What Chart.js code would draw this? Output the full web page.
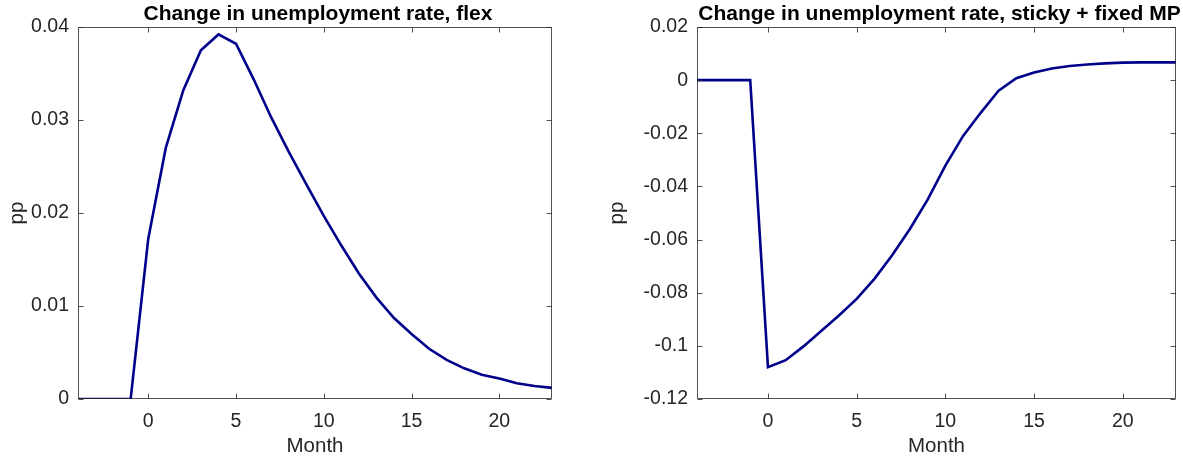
<!DOCTYPE html>
<html>
<head>
<meta charset="utf-8">
<script src="https://cdn.jsdelivr.net/npm/chart.js@4.4.1/dist/chart.umd.min.js"></script>
<style>
  html, body { margin: 0; padding: 0; background: #fff; }
  .panel { position: absolute; top: 0; height: 459px; }
  #leftPanel { left: 0; width: 600px; }
  #rightPanel { left: 600px; width: 583px; }
</style>
</head>
<body>
<div class="panel" id="leftPanel"><canvas id="flexChart"></canvas></div>
<div class="panel" id="rightPanel"><canvas id="stickyChart"></canvas></div>
<script>
// impulse responses, months -4 .. 23
const months = [-4, -3, -2, -1, 0, 1, 2, 3, 4, 5, 6, 7, 8, 9, 10, 11, 12, 13, 14, 15, 16, 17, 18, 19, 20, 21, 22, 23];

const flexRate = [0, 0, 0, 0,
    0.0172, 0.0270, 0.0332, 0.0375, 0.0392, 0.0382, 0.0344, 0.0303, 0.0266, 0.0231,
    0.0197, 0.0165, 0.0135, 0.0109, 0.0087, 0.0070, 0.0054, 0.0042, 0.0033, 0.0026,
    0.0022, 0.0017, 0.0014, 0.0012];

const stickyRate = [0, 0, 0, 0,
    -0.1080, -0.1054, -0.1002, -0.0944, -0.0886, -0.0823, -0.0748, -0.0659, -0.0560, -0.0450,
    -0.0322, -0.0210, -0.0122, -0.0040, 0.0007, 0.0029, 0.0044, 0.0053, 0.0059, 0.0063,
    0.0066, 0.0067, 0.0067, 0.0067];

const xTicks = [0, 5, 10, 15, 20];
const xTickLabels = ['0', '5', '10', '15', '20'];

const flexYTicks = [0, 0.01, 0.02, 0.03, 0.04];
const flexYTickLabels = ['0', '0.01', '0.02', '0.03', '0.04'];

const stickyYTicks = [-0.12, -0.1, -0.08, -0.06, -0.04, -0.02, 0, 0.02];
const stickyYTickLabels = ['-0.12', '-0.1', '-0.08', '-0.06', '-0.04', '-0.02', '0', '0.02'];

const fontFamily = "'Liberation Sans', Arial, sans-serif";
const axisColor = '#262626';
const lineColor = '#00008b';

// axes box with inward tick marks on all four sides, plus the bold title
const boxPlugin = {
    id: 'matlabBox',
    afterDraw(chart, args, opts) {
        const ctx = chart.ctx;
        const area = chart.chartArea;
        const xs = chart.scales.x;
        const ys = chart.scales.y;
        const tl = 5;
        ctx.save();
        ctx.strokeStyle = 'rgba(38,38,38,0.8)';
        ctx.lineWidth = 1;
        ctx.beginPath();
        const L = Math.round(area.left) + 0.5, R = Math.round(area.right) - 0.5;
        const T = Math.round(area.top) + 0.5, B = Math.round(area.bottom) - 0.5;
        ctx.rect(L, T, R - L, B - T);
        xs.ticks.forEach(t => {
            const px = Math.round(xs.getPixelForValue(t.value)) + 0.5;
            ctx.moveTo(px, B); ctx.lineTo(px, B - tl);
            ctx.moveTo(px, T); ctx.lineTo(px, T + tl);
        });
        ys.ticks.forEach(t => {
            const py = Math.round(ys.getPixelForValue(t.value)) + 0.5;
            ctx.moveTo(L, py); ctx.lineTo(L + tl, py);
            ctx.moveTo(R, py); ctx.lineTo(R - tl, py);
        });
        ctx.stroke();

        ctx.fillStyle = '#000';
        ctx.font = 'bold 21px ' + fontFamily;
        ctx.textAlign = 'center';
        ctx.textBaseline = 'alphabetic';
        ctx.fillText(opts.text, (area.left + area.right) / 2 + 3, 20);
        ctx.restore();
    }
};

function makeChart(canvasId, values, yTicks, yTickLabels, yMin, yMax, yWidth, padRight, title) {
    const ctx = document.getElementById(canvasId).getContext('2d');
    return new Chart(ctx, {
        type: 'line',
        data: {
            datasets: [{
                data: months.map((m, i) => ({ x: m, y: values[i] })),
                borderColor: lineColor,
                borderWidth: 2.6,
                pointRadius: 0,
                tension: 0,
                fill: false
            }]
        },
        options: {
            responsive: true,
            maintainAspectRatio: false,
            animation: false,
            layout: { padding: { left: 0, right: padRight, top: 27, bottom: 0 } },
            plugins: {
                legend: { display: false },
                tooltip: { enabled: false },
                matlabBox: { text: title }
            },
            scales: {
                x: {
                    type: 'linear',
                    min: -4,
                    max: 23,
                    grid: { display: false, drawTicks: false },
                    border: { display: false },
                    afterBuildTicks: scale => { scale.ticks = xTicks.map(v => ({ value: v })); },
                    afterFit: scale => { scale.height = 60; },
                    ticks: {
                        padding: 11,
                        maxRotation: 0,
                        color: axisColor,
                        font: { family: fontFamily, size: 19.5 },
                        callback: (v, i) => xTickLabels[i]
                    },
                    title: {
                        display: true,
                        text: 'Month',
                        color: axisColor,
                        padding: { top: 0, bottom: 0 },
                        font: { family: fontFamily, size: 20.5 }
                    }
                },
                y: {
                    type: 'linear',
                    min: yMin,
                    max: yMax,
                    grid: { display: false, drawTicks: false },
                    border: { display: false },
                    afterBuildTicks: scale => { scale.ticks = yTicks.map(v => ({ value: v })); },
                    afterFit: scale => { scale.width = yWidth; },
                    ticks: {
                        padding: 9,
                        color: axisColor,
                        font: { family: fontFamily, size: 19.5 },
                        callback: (v, i) => yTickLabels[i]
                    },
                    title: {
                        display: true,
                        text: 'pp',
                        color: axisColor,
                        padding: { top: 5, bottom: 0 },
                        font: { family: fontFamily, size: 20.5 }
                    }
                }
            }
        },
        plugins: [boxPlugin]
    });
}

makeChart('flexChart', flexRate, flexYTicks, flexYTickLabels, 0, 0.04, 78, 48,
    'Change in unemployment rate, flex');
makeChart('stickyChart', stickyRate, stickyYTicks, stickyYTickLabels, -0.12, 0.02, 97, 7,
    'Change in unemployment rate, sticky + fixed MP');
</script>
</body>
</html>
